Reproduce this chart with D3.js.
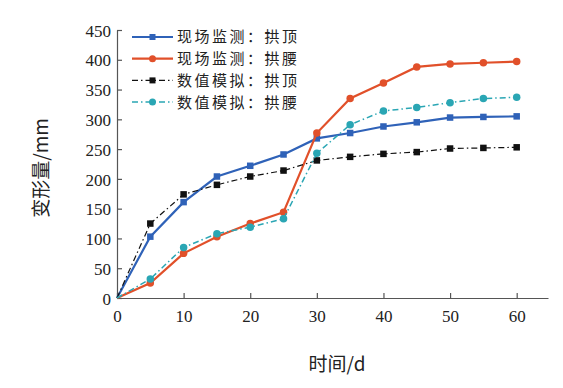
<!DOCTYPE html>
<html lang="zh">
<head>
<meta charset="UTF-8">
<title>变形量-时间曲线</title>
<style>
  body { margin: 0; background: #fff; }
  .axis path, .axis line { stroke: #555; stroke-width: 1.2; }
  .legend text { font-family: "Noto Sans CJK SC", sans-serif; font-size: 15px; letter-spacing: 2.5px; fill: #222; }
  .title { font-family: "Noto Sans CJK SC", sans-serif; font-size: 19px; fill: #222; }
</style>
</head>
<body>
<div id="chart"></div>
<script src="https://d3js.org/d3.v7.min.js"></script>
<script>
const days = [0, 5, 10, 15, 20, 25, 30, 35, 40, 45, 50, 55, 60];
const monitorCrown = [0, 103, 161, 204, 222, 241, 268, 277, 288, 295, 303, 304, 305];
const monitorWaist = [0, 25, 75, 103, 125, 144, 277, 335, 361, 388, 393, 395, 397];
const simCrown = [0, 125, 174, 190, 204, 214, 231, 237, 242, 245, 251, 252, 253];
const simWaist = [0, 32, 85, 108, 119, 133, 243, 291, 314, 320, 328, 335, 337];
const xTicks = [0, 10, 20, 30, 40, 50, 60];
const yTicks = [0, 50, 100, 150, 200, 250, 300, 350, 400, 450];

const series = [
  { name: "现场监测：拱顶", values: monitorCrown, color: "#2f62b8", dash: null, marker: "square", width: 2.2 },
  { name: "现场监测：拱腰", values: monitorWaist, color: "#e1502a", dash: null, marker: "circle", width: 2.2 },
  { name: "数值模拟：拱顶", values: simCrown, color: "#111", dash: "6,3,1.5,3", marker: "square", width: 1.2 },
  { name: "数值模拟：拱腰", values: simWaist, color: "#2aa6b4", dash: "6,3,1.5,3", marker: "circle", width: 1.5 }
];

const W = 563, H = 388;
const svg = d3.select("#chart").append("svg").attr("width", W).attr("height", H);

const x = d3.scaleLinear().domain([0, 64.7]).range([117, 548]);
const y = d3.scaleLinear().domain([0, 450]).range([298, 30]);

function serifText(g) {
  g.selectAll("text")
    .style("font-family", "'Liberation Serif', 'Times New Roman', serif")
    .style("font-size", "17px")
    .style("fill", "#222");
}

svg.append("g").attr("class", "axis")
  .attr("transform", `translate(0,${y(0)})`)
  .call(d3.axisBottom(x).tickValues(xTicks).tickSizeInner(-5).tickSizeOuter(0).tickPadding(11))
  .call(serifText)
  .call(g => g.selectAll("text").attr("dy", "0.75em"));

svg.append("g").attr("class", "axis")
  .attr("transform", `translate(${x(0)},0)`)
  .call(d3.axisLeft(y).tickValues(yTicks).tickSizeInner(-5).tickSizeOuter(0).tickPadding(6))
  .call(serifText)
  .call(g => g.selectAll("text").attr("dy", "0.36em"));

const line = d3.line().x((d, i) => x(days[i])).y(d => y(d));

function marker(g, type, color, size) {
  if (type === "square") {
    return g.append("rect").attr("x", -size / 2).attr("y", -size / 2)
      .attr("width", size).attr("height", size).attr("fill", color);
  }
  return g.append("circle").attr("r", size / 2 + 0.5).attr("fill", color);
}

series.forEach(s => {
  svg.append("path").datum(s.values)
    .attr("fill", "none").attr("stroke", s.color)
    .attr("stroke-width", s.width)
    .attr("stroke-dasharray", s.dash)
    .attr("d", line);
  s.values.forEach((v, i) => {
    if (i === 0) return;
    const g = svg.append("g").attr("transform", `translate(${x(days[i])},${y(v)})`);
    marker(g, s.marker, s.color, 6.5);
  });
});

const legend = svg.append("g").attr("class", "legend");
series.forEach((s, i) => {
  const ly = 37 + i * 21.7;
  legend.append("line").attr("x1", 132).attr("x2", 173).attr("y1", ly).attr("y2", ly)
    .attr("stroke", s.color).attr("stroke-width", s.width).attr("stroke-dasharray", s.dash);
  const g = legend.append("g").attr("transform", `translate(152.5,${ly})`);
  marker(g, s.marker, s.color, 6);
  legend.append("text").attr("x", 177).attr("y", ly).attr("dy", "0.36em").text(s.name);
});

svg.append("text").attr("class", "title")
  .attr("x", 337).attr("y", 371).attr("text-anchor", "middle").text("时间/d");

svg.append("text").attr("class", "title")
  .attr("transform", "translate(48,168) rotate(-90)")
  .attr("text-anchor", "middle").text("变形量/mm");
</script>
</body>
</html>
